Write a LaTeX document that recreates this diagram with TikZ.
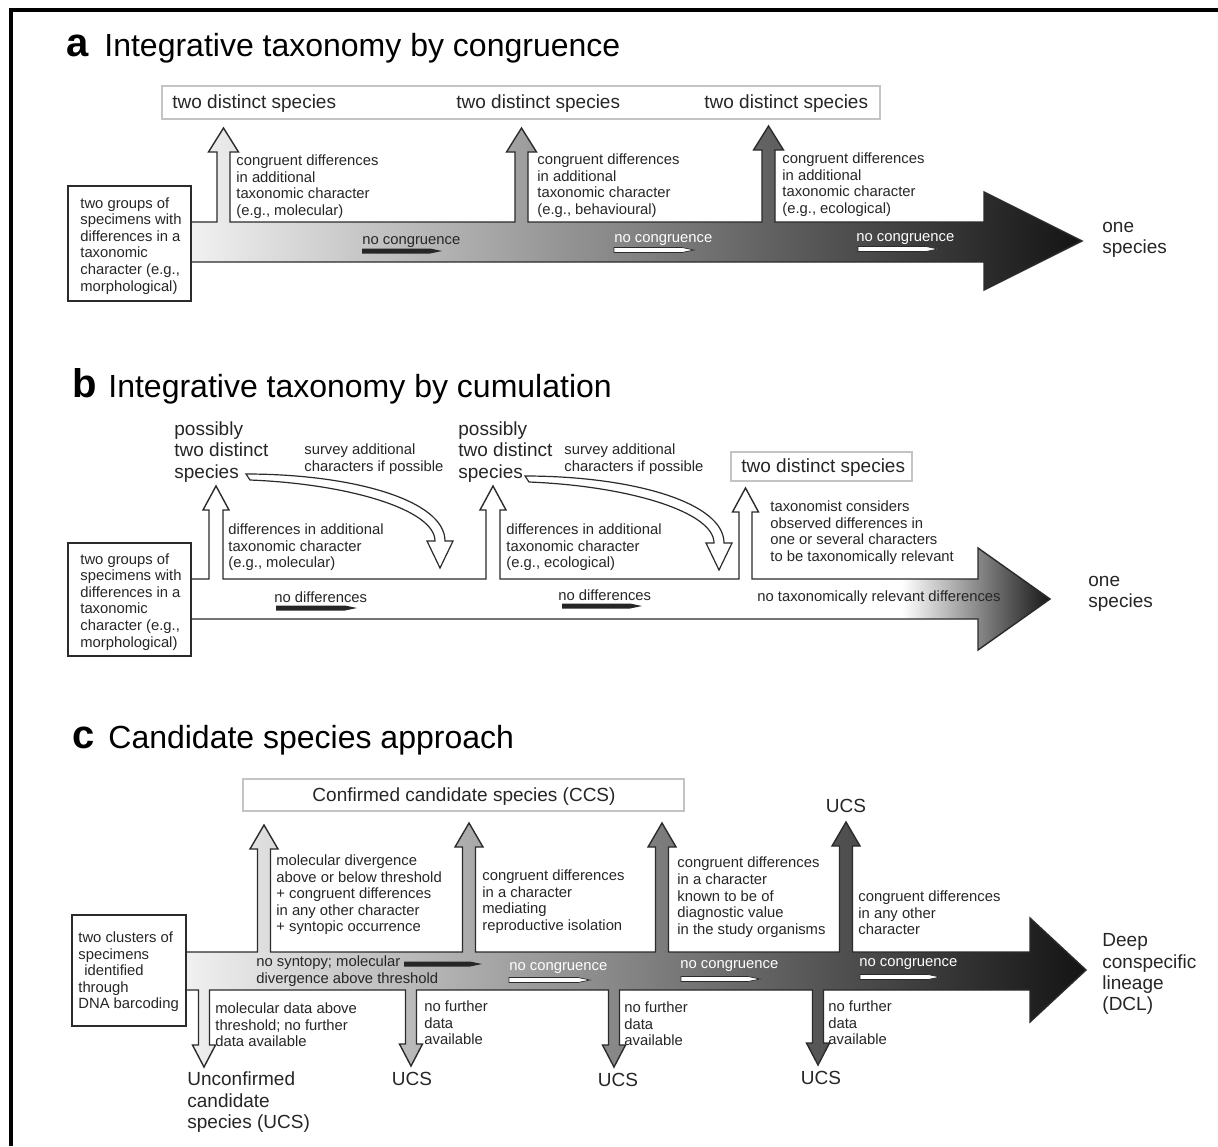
\documentclass[tikz,border=0pt]{standalone}
\usepackage{fontspec}
\setmainfont{Liberation Sans}
\definecolor{tc}{HTML}{262626}
\definecolor{outl}{HTML}{2B2B2B}
\definecolor{boxgray}{HTML}{C4C4C4}
\definecolor{gl}{HTML}{F2F2F2}
\definecolor{gd}{HTML}{141414}
\newcommand\mypen[4]{\path[#1] (#2,{#4-2.5}) -- ({#3-12},{#4-2.5}) -- (#3,#4) -- ({#3-12},{#4+2.5}) -- (#2,{#4+2.5}) -- cycle;}
\begin{document}
\begin{tikzpicture}[x=0.5pt,y=-0.5pt,
 txt/.style={font=\fontsize{7.4}{8.3}\selectfont, text=tc, align=left, inner sep=0pt, anchor=west, yshift=-0.9pt},
 wtxt/.style={txt, text=white},
 mid/.style={font=\fontsize{9.5}{10.7}\selectfont, text=tc, align=left, inner sep=0pt, anchor=west, yshift=-0.9pt},
 ttl/.style={font=\fontsize{16}{19}\selectfont, text=black, inner sep=0pt, anchor=base west},
 lett/.style={font=\fontsize{20}{24}\selectfont\bfseries, text=black, inner sep=0pt, anchor=base west},
 topbox/.style={draw=boxgray, line width=1pt, fill=white},
 startbox/.style={draw=outl, line width=0.75pt, fill=white},
 flow/.style={draw=outl, line width=0.7pt, line join=miter},
 up/.style args={#1/#2/#3/#4/#5}{insert path={-- ({#1-#4},#2) -- ({#1-#4},{#3+24}) -- ({#1-#5},{#3+24}) -- (#1,#3) -- ({#1+#5},{#3+24}) -- ({#1+#4},{#3+24}) -- ({#1+#4},#2)}},
 down/.style args={#1/#2/#3/#4/#5}{insert path={-- ({#1+#4},#2) -- ({#1+#4},{#3-22}) -- ({#1+#5},{#3-22}) -- (#1,#3) -- ({#1-#5},{#3-22}) -- ({#1-#4},{#3-22}) -- ({#1-#4},#2)}},
 pend/.style={fill=black!85},
 penw/.style={fill=white, draw=outl, line width=0.35pt},
 hollow/.style={draw=outl, fill=white, line width=0.6pt},
]
\useasboundingbox (0,0) rectangle (1218,1146);
\fill[white] (0,0) rectangle (1218,1146);
% frame
\draw[line width=2pt] (11,1146) -- (11,10) -- (1218,10);

% ================= panel a
\node[lett] (la) at (66,56) {a};
\node[ttl] (ta) at (104,56) {Integrative taxonomy by congruence};
\draw[topbox] (162,86) rectangle (880,119);
\node[mid] (a1) at (172,102) {two distinct species};
\node[mid] (a2) at (456,102) {two distinct species};
\node[mid] (a3) at (704,102) {two distinct species};
\path[flow, left color=gl, right color=gd] (185,222) [up=223.5/222/128/6.5/15] [up=521.5/222/128/6.5/15] [up=768.5/222/126/6.5/15] -- (984,222) -- (984,192) -- (1082,241) -- (984,290) -- (984,262) -- (185,262) -- cycle;
\draw[startbox] (68,186) rectangle (191,301);
\node[txt] (a4) at (80,244) {two groups of\\specimens with\\differences in a\\taxonomic\\character (e.g.,\\morphological)};
\node[txt] (a5) at (236,185) {congruent differences\\in additional\\taxonomic character\\(e.g., molecular)};
\node[txt] (a6) at (537,184) {congruent differences\\in additional\\taxonomic character\\(e.g., behavioural)};
\node[txt] (a7) at (782,183) {congruent differences\\in additional\\taxonomic character\\(e.g., ecological)};
\node[txt] (a8) at (362,240) {no congruence};
\node[wtxt] (a9) at (614,238) {no congruence};
\node[wtxt] (a10) at (856,237) {no congruence};
\mypen{pend}{362}{442}{251}
\mypen{penw}{614}{694}{250}
\mypen{penw}{858}{938}{249}
\node[mid] (a11) at (1102,238) {one\\species};

% ================= panel b
\node[lett] (lb) at (72,397) {b};
\node[ttl] (tb) at (108,397) {Integrative taxonomy by cumulation};
\fill[white] (185,579) [up=216/579/486/7/13] [up=493/579/486/7/13] [up=745.5/579/488/6.5/13] -- (978,579) -- (978,548) -- (1050,599) -- (978,650) -- (978,619) -- (185,619) -- cycle;
\begin{scope}
\clip (185,579) -- (978,579) -- (978,548) -- (1050,599) -- (978,650) -- (978,619) -- (185,619) -- cycle;
\shade[left color=white, right color=gd] (902,530) rectangle (1052,660);
\end{scope}
\draw[flow] (185,579) [up=216/579/486/7/13] [up=493/579/486/7/13] [up=745.5/579/488/6.5/13] -- (978,579) -- (978,548) -- (1050,599) -- (978,650) -- (978,619) -- (185,619) -- cycle;
\draw[startbox] (68,543) rectangle (191,656);
\node[txt] (b1) at (80,600) {two groups of\\specimens with\\differences in a\\taxonomic\\character (e.g.,\\morphological)};
\node[mid] (b2) at (174,450) {possibly\\two distinct\\species};
\node[mid] (b3) at (458,450) {possibly\\two distinct\\species};
\node[txt] (b4) at (304,457.5) {survey additional\\characters if possible};
\node[txt] (b5) at (564,457.5) {survey additional\\characters if possible};
\path[hollow] (246,474) .. controls (352,474) and (445,500) .. (445,541) -- (453,541) -- (440,568) -- (427,541) -- (435,541) .. controls (435,510) and (350,484) .. (250,480) -- cycle;
\begin{scope}[shift={(279,2)}]
\path[hollow] (246,474) .. controls (352,474) and (445,500) .. (445,541) -- (453,541) -- (440,568) -- (427,541) -- (435,541) .. controls (435,510) and (350,484) .. (250,480) -- cycle;
\end{scope}
\draw[topbox] (731,452) rectangle (912,481);
\node[mid] (b6) at (741,466) {two distinct species};
\node[txt] (b7) at (228,545.5) {differences in additional\\taxonomic character\\(e.g., molecular)};
\node[txt] (b8) at (506,545.5) {differences in additional\\taxonomic character\\(e.g., ecological)};
\node[txt] (b9) at (770,531) {taxonomist considers\\observed differences in\\one or several characters\\to be taxonomically relevant};
\node[txt] (b10) at (274,595) {no differences};
\node[txt] (b11) at (558,593) {no differences};
\mypen{pend}{276}{357}{608}
\mypen{pend}{562}{642}{606}
\node[txt] (b12) at (757,596) {no taxonomically relevant differences};
\node[mid] (b13) at (1088,592) {one\\species};

% ================= panel c
\node[lett] (lc) at (72,748) {c};
\node[ttl] (ttc) at (108,748) {Candidate species approach};
\draw[topbox] (243,779) rectangle (684,811);
\node[mid, anchor=center] (c1) at (464,795) {Confirmed candidate species (CCS)};
\node[mid, anchor=center] (c2) at (846,804) {UCS};
\path[flow, left color=gl, right color=gd] (180,952) [up=264/952/825/6.5/14] [up=469/952/823/6.5/14] [up=662/952/823/6.5/14] [up=846/952/822/6.5/14] -- (1030,952) -- (1030,918) -- (1086,970) -- (1030,1022) -- (1030,990) [down=818/990/1065/5.5/11.5] [down=614/990/1067/5.5/11.5] [down=411/990/1066/5.5/11.5] [down=204/990/1067/5.5/11.5] -- (180,990) -- cycle;
\draw[startbox] (72,915) rectangle (186,1026);
\node[txt] (c3) at (78,970) {two clusters of\\specimens\\\hspace*{3pt}identified\\through\\DNA barcoding};
\node[txt] (c4) at (276,893) {molecular divergence\\above or below threshold\\+ congruent differences\\in any other character\\+ syntopic occurrence};
\node[txt] (c5) at (482,900) {congruent differences\\in a character\\mediating\\reproductive isolation};
\node[txt] (c6) at (677,895.5) {congruent differences\\in a character\\known to be of\\diagnostic value\\in the study organisms};
\node[txt] (c7) at (858,911) {congruent differences\\in any other\\character};
\node[txt] (c8) at (256,969.5) {no syntopy; molecular\\divergence above threshold};
\mypen{pend}{404}{482}{964}
\node[wtxt] (c9) at (509,966) {no congruence};
\node[wtxt] (c10) at (680,964) {no congruence};
\node[wtxt] (c11) at (859,962) {no congruence};
\mypen{penw}{509}{590}{980}
\mypen{penw}{681}{760}{979}
\mypen{penw}{860}{940}{977}
\node[txt] (c12) at (215,1023) {molecular data above\\threshold; no further\\data available};
\node[txt] (c13) at (424,1021) {no further\\data\\available};
\node[txt] (c14) at (624,1022) {no further\\data\\available};
\node[txt] (c15) at (828,1021) {no further\\data\\available};
\node[mid] (c16) at (187,1100.5) {Unconfirmed\\candidate\\species (UCS)};
\node[mid, anchor=center] (c17) at (412,1077) {UCS};
\node[mid, anchor=center] (c18) at (618,1078) {UCS};
\node[mid, anchor=center] (c19) at (821,1076) {UCS};
\node[mid] (c20) at (1102,972.5) {Deep\\conspecific\\lineage\\(DCL)};
\end{tikzpicture}
\end{document}
